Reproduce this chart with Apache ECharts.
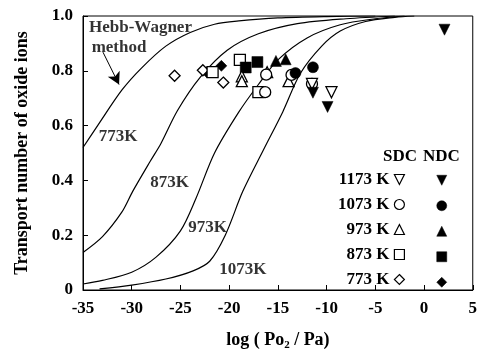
<!DOCTYPE html>
<html>
<head>
<meta charset="utf-8">
<script src="https://cdn.jsdelivr.net/npm/echarts@6/dist/echarts.min.js"></script>
<style>html,body{margin:0;padding:0;background:#fff;}#c{width:480px;height:356px;}</style>
</head>
<body>
<div id="c"></div>
<script>
// Hebb-Wagner curves [log Po2, t]
const curve773 = [[-35,0.52],[-33.5,0.60],[-31,0.73],[-29,0.81],[-26.5,0.89],[-24,0.94],[-21.5,0.97],[-19,0.982],[-15,0.993],[-10,0.998],[-5,1.0]];
const curve873 = [[-35,0.137],[-33,0.195],[-31,0.285],[-29.9,0.36],[-28.1,0.47],[-27,0.535],[-25.3,0.655],[-23,0.775],[-20.2,0.875],[-17,0.935],[-13,0.972],[-8,0.99],[-3,1.0]];
const curve973 = [[-35,0.022],[-33,0.035],[-30,0.065],[-27.5,0.12],[-25,0.216],[-23.4,0.335],[-21.5,0.5],[-19,0.65],[-17,0.75],[-15,0.84],[-12,0.92],[-8.6,0.968],[-5,0.99],[-2,1.0]];
const curve1073 = [[-33.3,0.004],[-30,0.018],[-26.5,0.04],[-23.7,0.07],[-22,0.105],[-20.4,0.2],[-18.6,0.36],[-16.5,0.51],[-14.5,0.65],[-12.7,0.79],[-10.5,0.89],[-8.6,0.945],[-6,0.98],[-3,0.995],[-1,1.0]];

// measured points
const sdc1173 = [[-11.5,0.752],[-9.5,0.722]];
const ndc1173 = [[-11.4,0.72],[-9.9,0.668],[2.1,0.95]];
const sdc1073 = [[-16.3,0.722],[-16.2,0.786],[-13.6,0.785],[-11.5,0.752]];
const ndc1073 = [[-13.2,0.792],[-11.4,0.813]];
const sdc973 = [[-18.7,0.78],[-18.7,0.762],[-16.1,0.795],[-13.9,0.762]];
const ndc973 = [[-15.2,0.836],[-14.2,0.842]];
const sdc873 = [[-21.7,0.795],[-18.9,0.84],[-17.0,0.722]];
const ndc873 = [[-18.3,0.812],[-17.1,0.832]];
const sdc773 = [[-25.6,0.782],[-22.7,0.802],[-20.6,0.757]];
const ndc773 = [[-22.3,0.795],[-20.8,0.818]];

const tempNames = ['1173 K','1073 K','973 K','873 K','773 K'];

// annotations
const curveLabels = [['773K',-31.4,0.56],['873K',-26.1,0.393],['973K',-22.2,0.227],['1073K',-18.6,0.076]];
const hebbLabels = [['Hebb-Wagner',-29.1,0.958],['method',-31.3,0.886]];
const arrowFrom = [-32.95,0.868];
const arrowTo = [-31.3,0.75];

const FONT = 'Liberation Serif';
const DOWN = 'path://M0,0L10,0L5,10Z';
const UP = 'path://M5,0L10,10L0,10Z';
const DIAM = 'path://M5,0L10,5L5,10L0,5Z';
const SQ = 'path://M0,0L10,0L10,10L0,10Z';
const CIRC = 'circle';
const symbols = [DOWN, CIRC, UP, SQ, DIAM];

const chart = echarts.init(document.getElementById('c'), null, {renderer:'canvas'});

function curve(data){
  return {type:'line', data:data, smooth:0.3, showSymbol:false, symbol:'none', silent:true,
    lineStyle:{color:'#000', width:1.2}, z:2};
}
function openS(name, data, symbol, size){
  return {type:'scatter', name:name, data:data, symbol:symbol, symbolSize:size,
    itemStyle:{color:'#fff', borderColor:'#000', borderWidth:1.3, opacity:1}, z:3};
}
function fillS(name, data, symbol, size){
  return {type:'scatter', name:name, data:data, symbol:symbol, symbolSize:size,
    itemStyle:{color:'#000', borderColor:'#000', borderWidth:0.5, opacity:1}, z:3};
}

const notes = curveLabels.concat(hebbLabels).map(a=>({name:a[0], value:[a[1],a[2]]}));

const legendA = tempNames.map((n,i)=>({name:n, icon:symbols[i],
  itemStyle:{color:'#fff', borderColor:'#000', borderWidth:1.2}}));
const legendB = tempNames.map((n,i)=>({name:n+' NDC', icon:symbols[i],
  itemStyle:{color:'#000', borderColor:'#000', borderWidth:0.5}}));

const option = {
  animation:false,
  backgroundColor:'#fff',
  grid:{left:83, right:7, top:16, bottom:63, show:true, borderColor:'#000', borderWidth:1},
  xAxis:{type:'value', min:-35, max:5, interval:5,
    axisLine:{onZero:false, lineStyle:{color:'#000', width:1}},
    axisTick:{inside:true, length:5, lineStyle:{color:'#000'}},
    splitLine:{show:false},
    axisLabel:{color:'#000', fontFamily:FONT, fontWeight:'bold', fontSize:17, margin:10},
    name:'log ( Po{s|2} / Pa)', nameLocation:'middle', nameGap:40,
    nameTextStyle:{color:'#000', fontFamily:FONT, fontWeight:'bold', fontSize:18,
      rich:{s:{fontFamily:FONT, fontWeight:'bold', fontSize:11, verticalAlign:'bottom', padding:[10,0,0,0]}}}
  },
  yAxis:{type:'value', min:0, max:1, interval:0.2,
    axisLine:{show:true, onZero:false, lineStyle:{color:'#000', width:1}},
    axisTick:{show:true, inside:true, length:5, lineStyle:{color:'#000'}},
    splitLine:{show:false},
    axisLabel:{color:'#000', fontFamily:FONT, fontWeight:'bold', fontSize:17, margin:10,
      formatter:v=> v===0 ? '0' : v.toFixed(1)},
    name:'Transport number of oxide ions', nameLocation:'middle', nameGap:52,
    nameTextStyle:{color:'#000', fontFamily:FONT, fontWeight:'bold', fontSize:18}
  },
  legend:[
    {data:legendA, orient:'vertical', align:'right', right:75, top:171, itemGap:8, padding:0,
     itemWidth:10, itemHeight:10, selectedMode:false,
     textStyle:{color:'#000', fontFamily:FONT, fontWeight:'bold', fontSize:17, lineHeight:17}},
    {data:legendB, orient:'vertical', align:'right', right:33, top:175, itemGap:15, padding:0,
     itemWidth:10, itemHeight:10, selectedMode:false, formatter:()=>'',
     textStyle:{color:'#000', fontFamily:FONT, fontWeight:'bold', fontSize:17, lineHeight:17}}
  ],
  graphic:[
    {type:'text', left:383, top:148, style:{text:'SDC', fill:'#000', font:'bold 17px "Liberation Serif"'}},
    {type:'text', left:423, top:148, style:{text:'NDC', fill:'#000', font:'bold 17px "Liberation Serif"'}}
  ],
  series:[
    curve(curve773), curve(curve873), curve(curve973), curve(curve1073),
    fillS('773 K NDC', ndc773, DIAM, 11),
    openS('773 K', sdc773, DIAM, 11),
    openS('873 K', sdc873, SQ, 11),
    fillS('873 K NDC', ndc873, SQ, 11),
    openS('973 K', sdc973, UP, 11),
    fillS('973 K NDC', ndc973, UP, 11),
    openS('1073 K', sdc1073, CIRC, 11),
    fillS('1073 K NDC', ndc1073, CIRC, 11),
    openS('1173 K', sdc1173, DOWN, 11),
    fillS('1173 K NDC', ndc1173, DOWN, 11),
    {type:'scatter', name:'notes', data:notes, symbolSize:1, silent:true,
     itemStyle:{color:'rgba(0,0,0,0)'}, z:4,
     label:{show:true, position:'inside', formatter:p=>p.name, color:'#000',
       fontFamily:FONT, fontWeight:'bold', fontSize:17},
     markLine:{silent:true, symbol:['none','arrow'], symbolSize:[10,12], label:{show:false},
       lineStyle:{color:'#000', width:1, type:'solid'},
       data:[[{coord:arrowFrom},{coord:arrowTo}]]}
    }
  ]
};
chart.setOption(option);
</script>
</body>
</html>
